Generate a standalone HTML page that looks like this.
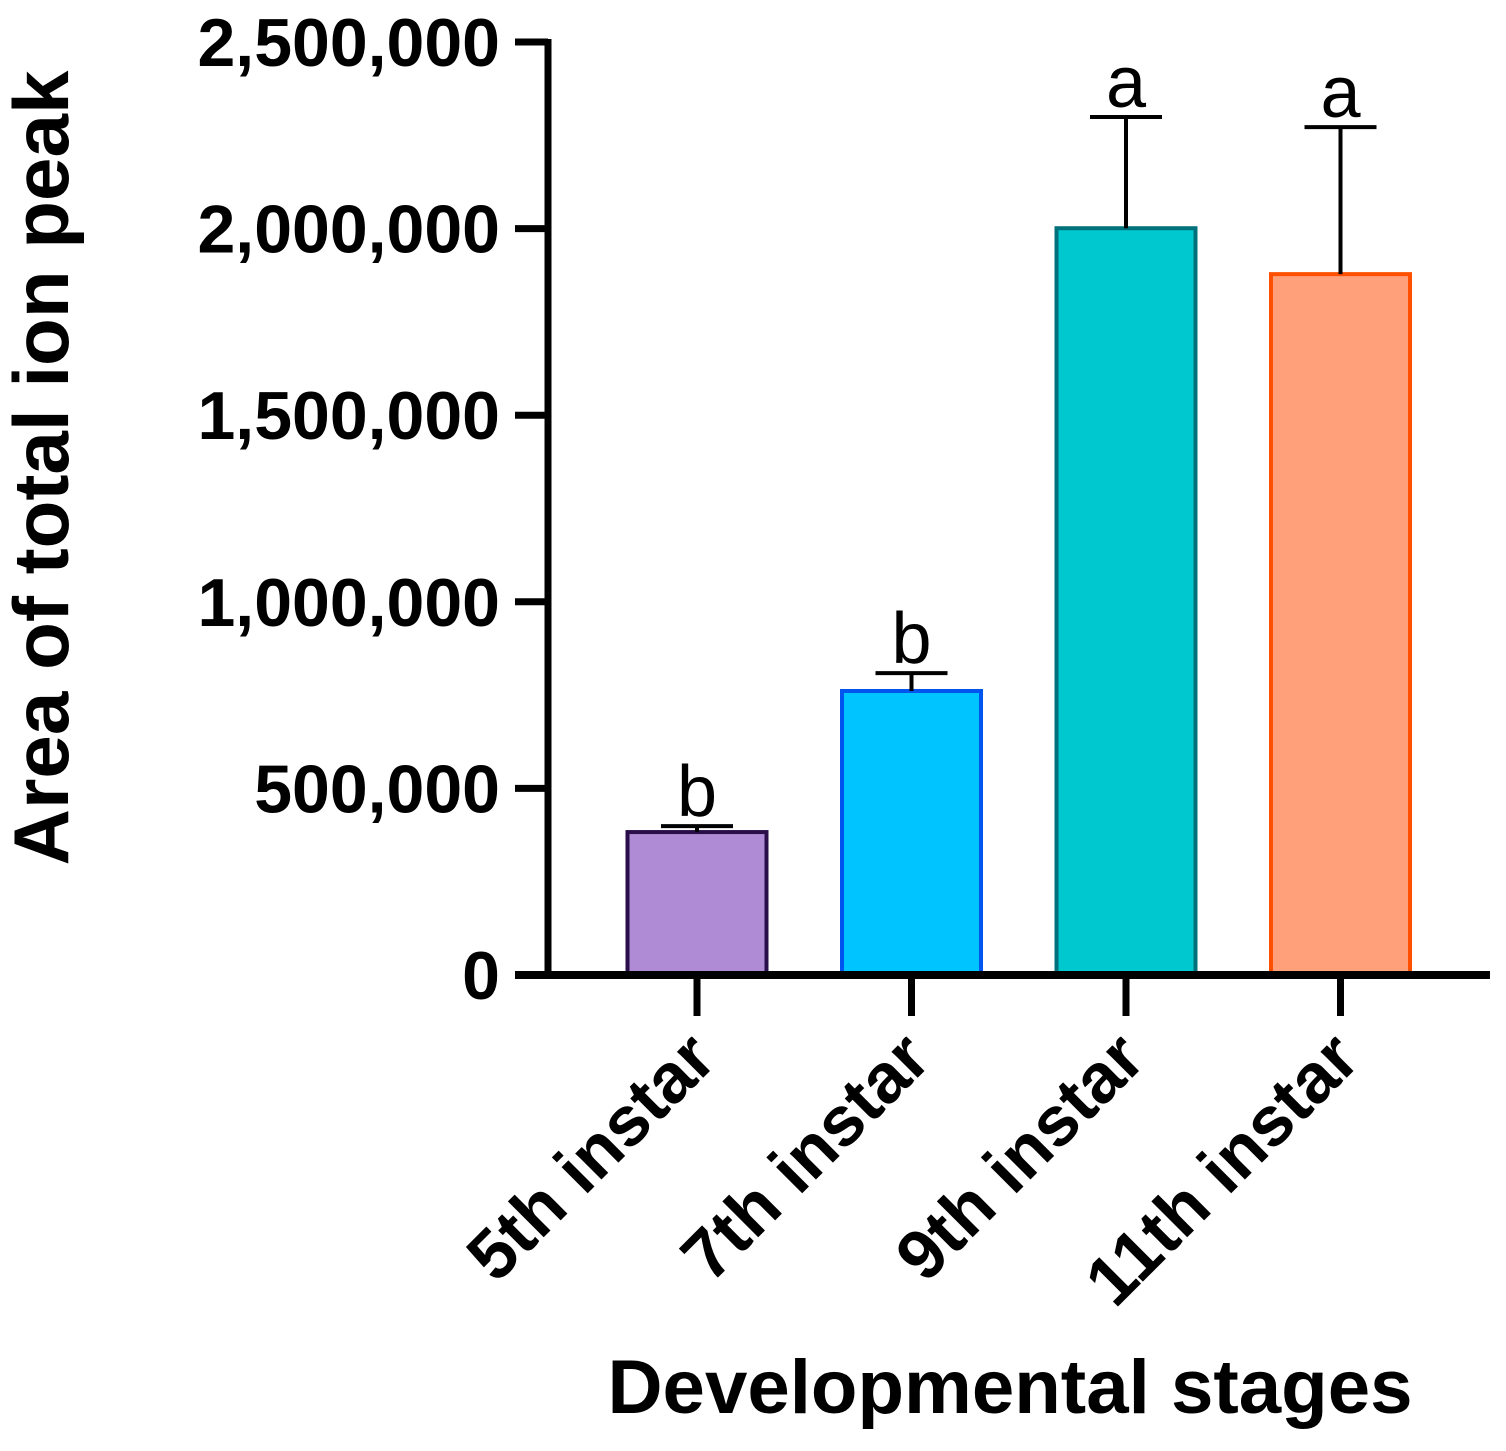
<!DOCTYPE html>
<html><head><meta charset="utf-8"><style>
html,body{margin:0;padding:0;background:#fff;}
svg{display:block;font-family:"Liberation Sans",Arial,sans-serif;}
</style></head><body>
<svg id="chart" width="1506" height="1451" viewBox="0 0 1506 1451">
<g id="bars"></g>
<g id="axes"></g>
<text transform="translate(68,468) rotate(-90)" text-anchor="middle" font-size="78" font-weight="bold" textLength="795" lengthAdjust="spacingAndGlyphs">Area of total ion peak</text>
<text x="1010" y="1413" text-anchor="middle" font-size="76" font-weight="bold" textLength="805" lengthAdjust="spacingAndGlyphs">Developmental stages</text>
</svg>
<script>
const categories=["5th instar","7th instar","9th instar","11th instar"];
const means=[383000,761000,2001000,1878000];
const errors=[16000,48000,298000,394000];
const letters=["b","b","a","a"];
const yTicks=[0,500000,1000000,1500000,2000000,2500000];
const yTickLabels=["0","500,000","1,000,000","1,500,000","2,000,000","2,500,000"];
const fills=["#AF8BD6","#00C4FF","#00C8CF","#FFA07A"];
const strokes=["#2A0E4A","#0055EE","#00707A","#FF5000"];
const NS="http://www.w3.org/2000/svg";
const y0=975,yTop=42,yMax=2500000;
const y=v=>y0-(v/yMax)*(y0-yTop);
const xLeft=548,band=214.5,barW=139;
const xc=i=>697+i*band;
function mk(t,a,p){const e=document.createElementNS(NS,t);for(const k in a)e.setAttribute(k,a[k]);p.appendChild(e);return e;}
const bars=document.getElementById('bars'),axes=document.getElementById('axes');
categories.forEach((c,i)=>{
  const r=mk('rect',{x:xc(i)-barW/2,y:y(means[i]),width:barW,height:y0-y(means[i]),fill:fills[i],stroke:strokes[i],'stroke-width':4},bars);
  
  
  const el=mk('line',{x1:xc(i),x2:xc(i),y1:y(means[i]),y2:y(means[i]+errors[i]),stroke:'#000','stroke-width':4},bars);
  
  
  const cap=mk('line',{x1:xc(i)-36,x2:xc(i)+36,y1:y(means[i]+errors[i]),y2:y(means[i]+errors[i]),stroke:'#000','stroke-width':4},bars);
  
  
  const t=mk('text',{x:xc(i),y:y(means[i]+errors[i])-10,'text-anchor':'middle','font-size':72},bars);
  t.textContent=letters[i];
  
  
  const tk=mk('line',{x1:xc(i),x2:xc(i),y1:y0,y2:1016,stroke:'#000','stroke-width':7},axes);
  
  
  const lb=mk('text',{transform:`translate(${xc(i)+22},1062) rotate(-45)`,'text-anchor':'end','font-size':70,'font-weight':'bold'},axes);
  lb.textContent=c;
  
  
});
yTicks.forEach((v,i)=>{
  const lbAttrs={x:500,y:y(v)+24,'text-anchor':'end','font-size':68,'font-weight':'bold'};
  const tk=mk('line',{x1:515,x2:xLeft,y1:y(v),y2:y(v),stroke:'#000','stroke-width':7},axes);
  
  
  const lb=mk('text',lbAttrs,axes);
  lb.textContent=yTickLabels[i];
  
  
});
const ya=mk('line',{x1:xLeft,x2:xLeft,y1:yTop-3,y2:y0+4,stroke:'#000','stroke-width':7},axes);


const xa=mk('line',{x1:515,x2:1490,y1:y0,y2:y0,stroke:'#000','stroke-width':8},axes);


</script>
</body></html>
